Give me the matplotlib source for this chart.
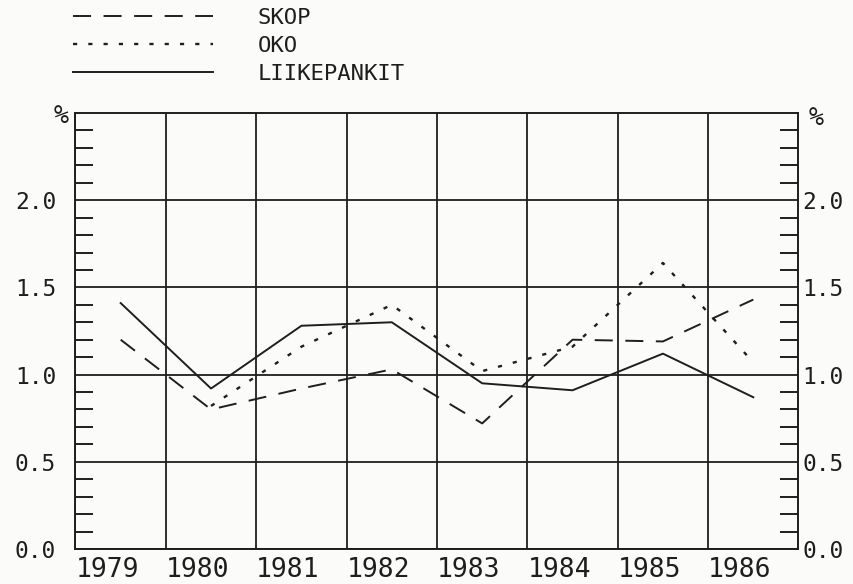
import numpy as np
import matplotlib.pyplot as plt

years = ['1979', '1980', '1981', '1982', '1983', '1984', '1985', '1986']
skop = [1.20, 0.80, 0.92, 1.03, 0.72, 1.20, 1.19, 1.43]
oko = [np.nan, 0.82, 1.16, 1.40, 1.02, 1.16, 1.64, 1.07]
liikepankit = [1.41, 0.92, 1.28, 1.30, 0.95, 0.91, 1.12, 0.87]
ylabels = ['0.0', '0.5', '1.0', '1.5', '2.0']

plt.rcParams['font.family'] = 'DejaVu Sans Mono'
plt.rcParams['lines.scale_dashes'] = False

bg = '#fbfbfa'
ink = '#1e1e1e'

fig = plt.figure(figsize=(8.54, 5.84), dpi=100, facecolor=bg)
ax = fig.add_axes([0.0884, 0.060, 0.8466, 0.7465])
ax.set_facecolor(bg)

x = np.arange(len(years)) + 0.5
ax.plot(x, skop, color=ink, lw=1.4, dashes=(13, 9), label='SKOP')
ax.plot(x, oko, color=ink, lw=1.7, dashes=(3, 8), label='OKO')
ax.plot(x, liikepankit, color=ink, lw=1.4, label='LIIKEPANKIT')

ax.set_xlim(0, 8)
ax.set_ylim(0, 2.5)
ax.set_xticks(range(len(years)))
ax.set_xticklabels(years, ha='left', fontsize=19, color=ink)
ax.tick_params(axis='x', length=0, pad=6)

yt = [0, 0.5, 1.0, 1.5, 2.0]
ax.set_yticks(yt)
ax.set_yticklabels(ylabels, fontsize=16.5, color=ink)
ax.set_yticks(np.arange(0.1, 2.5, 0.1), minor=True)
ax.grid(True, which='major', color=ink, lw=1.3)
for s in ax.spines.values():
    s.set_color(ink)
    s.set_linewidth(1.4)

# right hand labels
ax2 = ax.twinx()
ax2.set_ylim(0, 2.5)
ax2.set_yticks(yt)
ax2.set_yticklabels(ylabels, fontsize=16.5, color=ink)
ax2.tick_params(axis='y', length=0, pad=3)
for s in ax2.spines.values():
    s.set_visible(False)

# twinx turns the right ticks off, so set them after
ax.tick_params(axis='y', which='major', length=0, pad=14, left=True, right=False,
               labelleft=True, labelright=False)
ax.tick_params(axis='y', which='minor', direction='in', length=13, width=1.4,
               left=True, right=True, color=ink)

fig.text(61 / 854, 1 - 116 / 584, '%', ha='center', va='center', fontsize=18, color=ink)
fig.text(816 / 854, 1 - 118 / 584, '%', ha='center', va='center', fontsize=18, color=ink)

leg = ax.legend(loc='upper left', bbox_to_anchor=(73 / 854, 1 - 8 / 584),
                bbox_transform=fig.transFigure, frameon=False, fontsize=16,
                handlelength=6.3, handletextpad=2.0, labelspacing=0.35, borderpad=0,
                borderaxespad=0)
for t in leg.get_texts():
    t.set_color(ink)

fig.savefig('out.png', dpi=100, facecolor=bg)
